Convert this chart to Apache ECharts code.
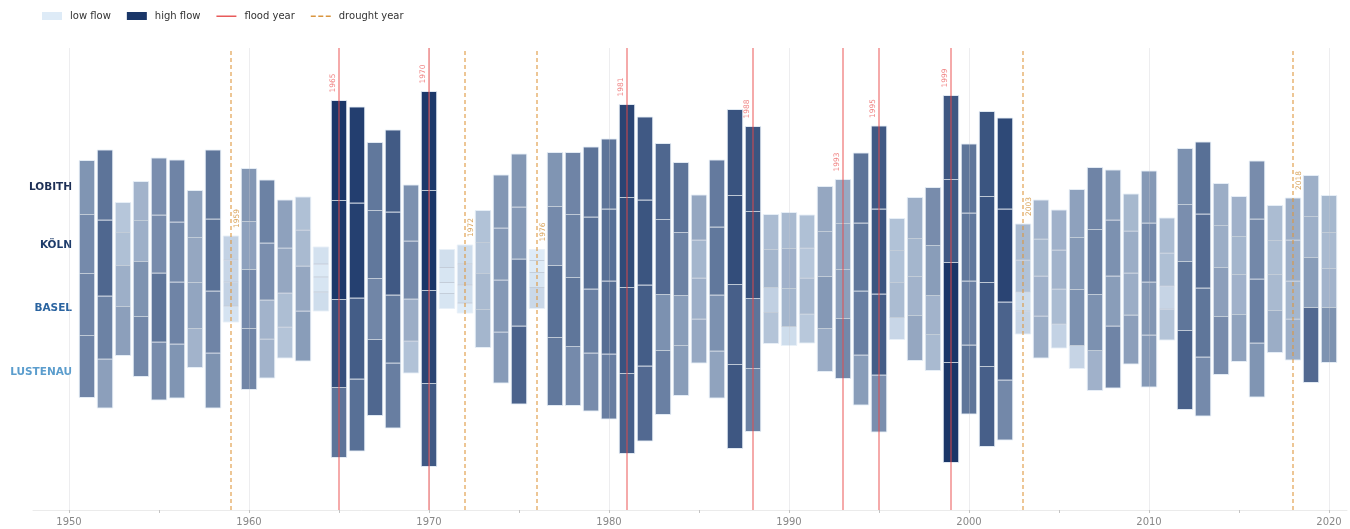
<!DOCTYPE html>
<html><head><meta charset="utf-8">
<script src="https://cdn.jsdelivr.net/npm/echarts@6/dist/echarts.min.js"></script>
<style>html,body{margin:0;padding:0;background:#fff}#chart{width:1350px;height:529px}</style>
</head><body><div id="chart"></div>
<script>
// ---- data (relative flow index per station) ----
const years = [1951,1952,1953,1954,1955,1956,1957,1958,1959,1960,
  1961,1962,1963,1964,1965,1966,1967,1968,1969,1970,
  1971,1972,1973,1974,1975,1976,1977,1978,1979,1980,
  1981,1982,1983,1984,1985,1986,1987,1988,1989,1990,
  1991,1992,1993,1994,1995,1996,1997,1998,1999,2000,
  2001,2002,2003,2004,2005,2006,2007,2008,2009,2010,
  2011,2012,2013,2014,2015,2016,2017,2018,2019,2020];
const lustenau = [62,49,49,60,58,54,39,55,16,61,
  39,31,50,19,70,72,76,65,32,83,
  15,10,38,51,78,21,68,59,58,65,
  80,75,64,50,44,47,84,63,31,19,
  29,43,60,50,57,22,45,36,100,69,
  80,60,23,42,24,23,40,62,49,52,
  31,79,59,58,47,54,42,41,75,55];
const basel = [62,63,41,55,69,62,46,62,24,59,
  39,34,45,15,88,81,61,68,42,93,
  11,18,36,52,67,15,72,69,64,73,
  86,81,56,50,41,56,80,70,25,38,
  36,52,49,64,81,35,39,39,100,64,
  84,78,19,40,35,56,56,50,42,53,
  23,69,69,49,40,64,36,38,50,39];
const koeln = [59,76,33,41,58,60,45,72,22,48,
  57,45,36,13,99,95,68,83,58,100,
  15,21,31,52,52,12,59,63,72,72,
  90,85,75,63,38,68,89,87,38,40,
  30,45,46,68,85,32,38,50,83,68,
  86,93,32,37,39,52,65,56,42,59,
  33,57,74,42,38,60,34,41,41,36];
const lobith = [54,70,30,39,57,62,47,69,24,53,
  63,48,33,17,100,96,68,82,56,99,
  18,19,32,53,53,11,54,62,70,70,
  93,83,76,70,45,67,86,85,35,36,
  33,45,44,70,83,32,41,58,84,69,
  85,91,36,39,40,48,62,50,37,52,
  35,56,72,42,40,58,35,42,41,37];
const floodYears = [1965,1970,1981,1988,1993,1995,1999];
const droughtYears = [1959,1972,1976,2003,2018];
const stationNames = ['LOBITH','KÖLN','BASEL','LUSTENAU'];
const labelYears = [1950,1960,1970,1980,1990,2000,2010,2020];
const tickYears = [1950,1955,1960,1965,1970,1975,1980,1985,1990,1995,2000,2005,2010,2015,2020];

// ---- styling ----
const FONT = '"DejaVu Sans", Verdana, sans-serif';
const LOW = '#deebf7', HIGH = '#1a3668';
const stationColors = ['#1d2f55','#1e3c6b','#2b64a0','#5b9dcd'];
const stationY = [186,244,307,371];
const LINE_ICON = 'path://M0,0h0.01v0.01h-0.01z M0,3.4h20v1.6h-20z M0,8h0.01v0.01h-0.01z';
const DASH_ICON = 'path://M0,0h0.01v0.01h-0.01z M0,3.4h5v1.6h-5z M7.5,3.4h5v1.6h-5z M15,3.4h5v1.6h-5z M0,8h0.01v0.01h-0.01z';

function flowColor(v){
  const t = Math.max(0, Math.min(1, (v - 12) / 88));
  return echarts.color.lerp(t, [LOW, HIGH]);
}

const barData = years.map((y,i)=>[y, lustenau[i], basel[i], koeln[i], lobith[i]]);
function totalOf(y){ const i = years.indexOf(y); return lustenau[i]+basel[i]+koeln[i]+lobith[i]; }
const eventData = floodYears.map(y=>[y, totalOf(y), 0]).concat(droughtYears.map(y=>[y, totalOf(y), 1]));

const chart = echarts.init(document.getElementById('chart'), null, {renderer:'canvas'});
chart.setOption({
  animation:false,
  backgroundColor:'#fff',
  textStyle:{fontFamily:FONT},
  grid:{left:33, right:3, top:48, bottom:19},
  legend:{left:37, top:6, itemWidth:20, itemHeight:8, itemGap:16,
    textStyle:{fontFamily:FONT, fontSize:10, color:'#333', padding:[0,0,0,3]},
    data:[{name:'low flow', icon:'rect'},{name:'high flow', icon:'rect'},
      {name:'flood year', icon:LINE_ICON},{name:'drought year', icon:DASH_ICON}]},
  xAxis:{type:'value', min:1948, max:2021,
    axisLine:{show:true, onZero:false, lineStyle:{color:'#ebebeb', width:1}},
    axisTick:{show:true, length:3, lineStyle:{color:'#c4c4c4'}, customValues:tickYears},
    axisLabel:{customValues:labelYears, color:'#888', fontFamily:FONT, fontSize:10, margin:7, formatter:v=>String(v)},
    splitLine:{show:false}},
  yAxis:{type:'value', min:-231, max:231, show:false, splitLine:{show:false}, axisLine:{show:false}},
  graphic: stationNames.map((n,k)=>({type:'text', right:1350-72, top:stationY[k]-4,
    style:{text:n, fill:stationColors[k], font:'bold 10.5px '+FONT, align:'right'}})),
  series:[
    {name:'low flow', type:'bar', data:[], itemStyle:{color:LOW}},
    {name:'high flow', type:'bar', data:[], itemStyle:{color:HIGH}},
    {name:'flows', type:'custom', z:2, data:barData,
      renderItem:function(params, api){
        const yr = api.value(0);
        const vals = [api.value(1), api.value(2), api.value(3), api.value(4)];
        const total = vals[0]+vals[1]+vals[2]+vals[3];
        let base = -total/2;
        const cx = api.coord([yr,0])[0];
        const bw = api.size([1,0])[0]*0.86;
        const rects = [], lines = [];
        vals.forEach((v,k)=>{
          const p0 = api.coord([yr, base]), p1 = api.coord([yr, base+v]);
          rects.push({type:'rect', shape:{x:cx-bw/2, y:p1[1], width:bw, height:p0[1]-p1[1]},
            style:{fill:flowColor(v), stroke:'rgba(232,239,247,0.9)', lineWidth:1}});
          if (k>0) lines.push({type:'line', shape:{x1:cx-bw/2+0.5, y1:p0[1], x2:cx+bw/2-0.5, y2:p0[1]},
            style:{stroke:'rgba(15,30,65,0.16)', lineWidth:1}});
          base += v;
        });
        return {type:'group', children:rects.concat(lines)};
      }},
    {name:'gridlines', type:'line', data:[], z:3, silent:true, symbol:'none',
      markLine:{silent:true, symbol:['none','none'], label:{show:false}, animation:false,
        lineStyle:{color:'rgba(200,200,205,0.32)', width:1, type:'solid'},
        data:labelYears.map(y=>({xAxis:y}))}},
    {name:'flood year', type:'line', data:[], z:4, symbol:'none', color:'#e85a5a',
      lineStyle:{color:'#e85a5a', width:2},
      markLine:{silent:true, symbol:['none','none'], label:{show:false}, animation:false,
        lineStyle:{color:'rgba(232,72,72,0.62)', width:1.5, type:'solid'},
        data:floodYears.map(y=>({xAxis:y}))}},
    {name:'drought year', type:'line', data:[], z:4, symbol:'none', color:'#d9953f',
      lineStyle:{color:'#d9953f', width:1.5, type:'dashed'},
      markLine:{silent:true, symbol:['none','none'], label:{show:false}, animation:false,
        lineStyle:{color:'rgba(222,150,60,0.72)', width:1.5, type:[4,3]},
        data:droughtYears.map(y=>({xAxis:y}))}},
    {name:'event labels', type:'custom', z:5, data:eventData, silent:true,
      renderItem:function(params, api){
        const yr = api.value(0), tot = api.value(1), kind = api.value(2);
        const p = api.coord([yr, tot/2]);
        return {type:'text', x:p[0] + (kind===0 ? -6 : 6), y:p[1]-8, rotation:Math.PI/2,
          style:{text:String(yr), fill: kind===0 ? '#f08484' : '#d9a55e',
            font:'7.5px '+FONT, align:'left', verticalAlign:'middle'}};
      }}
  ]
});
</script></body></html>
